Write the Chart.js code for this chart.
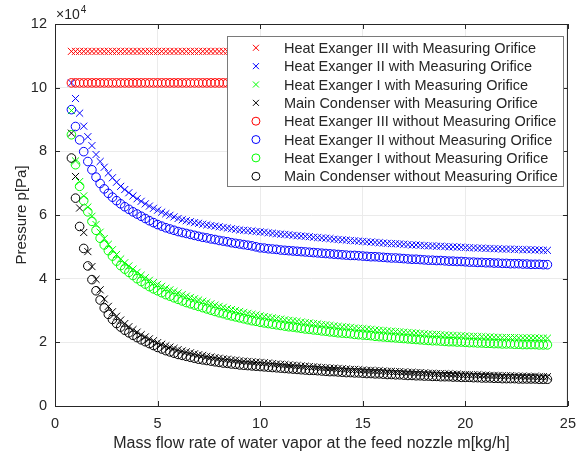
<!DOCTYPE html>
<html>
<head>
    <title>Pressure vs Mass Flow</title>
    <script src="https://cdn.jsdelivr.net/npm/chart.js"></script>
    <style>
        body { margin: 0; background: #fff; }
        #wrap { width: 585px; height: 457px; }
    </style>
</head>
<body>
<div id="wrap"><canvas id="pressureChart" width="585" height="457"></canvas></div>
<script>
// mass flow rate m [kg/h]
const massFlow = [0.8, 1.0,
    1.2, 1.4, 1.6, 1.8, 2.0,
    2.2, 2.4, 2.6, 2.8, 3.0,
    3.2, 3.4, 3.6, 3.8, 4.0,
    4.2, 4.4, 4.6, 4.8, 5.0,
    5.2, 5.4, 5.6, 5.8, 6.0,
    6.2, 6.4, 6.6, 6.8, 7.0,
    7.2, 7.4, 7.6, 7.8, 8.0,
    8.2, 8.4, 8.6, 8.8, 9.0,
    9.2, 9.4, 9.6, 9.8, 10.0,
    10.2, 10.4, 10.6, 10.8, 11.0,
    11.2, 11.4, 11.6, 11.8, 12.0,
    12.2, 12.4, 12.6, 12.8, 13.0,
    13.2, 13.4, 13.6, 13.8, 14.0,
    14.2, 14.4, 14.6, 14.8, 15.0,
    15.2, 15.4, 15.6, 15.8, 16.0,
    16.2, 16.4, 16.6, 16.8, 17.0,
    17.2, 17.4, 17.6, 17.8, 18.0,
    18.2, 18.4, 18.6, 18.8, 19.0,
    19.2, 19.4, 19.6, 19.8, 20.0,
    20.2, 20.4, 20.6, 20.8, 21.0,
    21.2, 21.4, 21.6, 21.8, 22.0,
    22.2, 22.4, 22.6, 22.8, 23.0,
    23.2, 23.4, 23.6, 23.8, 24.0];

// pressures, in units of 1e4 Pa
const hx3With = [11.14, 11.14,
    11.14, 11.14, 11.14, 11.14, 11.14,
    11.14, 11.14, 11.14, 11.14, 11.14,
    11.14, 11.14, 11.14, 11.14, 11.14,
    11.14, 11.14, 11.14, 11.14, 11.14,
    11.14, 11.14, 11.14, 11.14, 11.14,
    11.14, 11.14, 11.14, 11.14, 11.14,
    11.14, 11.14, 11.14, 11.14, 11.14,
    11.14, 11.14, 11.14, 11.14, 11.14,
    11.14, 11.14, 11.14, 11.14, 11.14,
    11.14, 11.14, 11.14, 11.14, 11.14,
    11.14, 11.14, 11.14, 11.14, 11.14,
    11.14, 11.14, 11.14, 11.14, 11.14,
    11.14, 11.14, 11.14, 11.14, 11.14,
    11.14, 11.14, 11.14, 11.14, 11.14,
    11.14, 11.14, 11.14, 11.14, 11.14,
    11.14, 11.14, 11.14, 11.14, 11.14,
    11.14, 11.14, 11.14, 11.14, 11.14,
    11.14, 11.14, 11.14, 11.14, 11.14,
    11.14, 11.14, 11.14, 11.14, 11.14,
    11.14, 11.14, 11.14, 11.14, 11.14,
    11.14, 11.14, 11.14, 11.14, 11.14,
    11.14, 11.14, 11.14, 11.14, 11.14,
    11.14, 11.14, 11.14, 11.14, 11.14];

const hx2With = [10.15, 9.66,
    9.20, 8.79, 8.46, 8.18, 7.90,
    7.68, 7.50, 7.32, 7.17, 7.03,
    6.90, 6.80, 6.70, 6.60, 6.51,
    6.43, 6.35, 6.28, 6.21, 6.15,
    6.09, 6.04, 5.99, 5.94, 5.89,
    5.85, 5.82, 5.79, 5.76, 5.74,
    5.71, 5.69, 5.67, 5.65, 5.63,
    5.61, 5.59, 5.57, 5.55, 5.53,
    5.52, 5.51, 5.50, 5.48, 5.47,
    5.46, 5.44, 5.43, 5.41, 5.40,
    5.39, 5.38, 5.36, 5.35, 5.34,
    5.33, 5.32, 5.30, 5.29, 5.28,
    5.27, 5.26, 5.24, 5.23, 5.22,
    5.21, 5.20, 5.19, 5.18, 5.17,
    5.16, 5.15, 5.14, 5.13, 5.12,
    5.11, 5.10, 5.10, 5.09, 5.08,
    5.07, 5.06, 5.06, 5.05, 5.04,
    5.03, 5.03, 5.02, 5.02, 5.01,
    5.00, 5.00, 4.99, 4.99, 4.98,
    4.97, 4.97, 4.96, 4.96, 4.95,
    4.95, 4.94, 4.94, 4.93, 4.93,
    4.93, 4.92, 4.92, 4.91, 4.91,
    4.91, 4.90, 4.90, 4.89, 4.89];

const hx1With = [9.28, 7.70,
    7.05, 6.60, 6.25, 5.96, 5.70,
    5.46, 5.26, 5.08, 4.91, 4.76,
    4.62, 4.50, 4.40, 4.30, 4.20,
    4.11, 4.03, 3.95, 3.88, 3.82,
    3.76, 3.70, 3.65, 3.60, 3.55,
    3.50, 3.45, 3.41, 3.37, 3.33,
    3.29, 3.25, 3.21, 3.17, 3.13,
    3.10, 3.06, 3.03, 3.00, 2.97,
    2.94, 2.91, 2.88, 2.86, 2.83,
    2.81, 2.79, 2.77, 2.75, 2.73,
    2.71, 2.69, 2.68, 2.66, 2.64,
    2.62, 2.61, 2.59, 2.58, 2.56,
    2.55, 2.53, 2.52, 2.50, 2.49,
    2.48, 2.47, 2.45, 2.44, 2.43,
    2.42, 2.41, 2.39, 2.38, 2.37,
    2.36, 2.35, 2.34, 2.33, 2.32,
    2.31, 2.30, 2.29, 2.28, 2.27,
    2.26, 2.25, 2.25, 2.24, 2.23,
    2.22, 2.22, 2.21, 2.21, 2.20,
    2.19, 2.19, 2.18, 2.18, 2.17,
    2.17, 2.16, 2.16, 2.15, 2.15,
    2.15, 2.15, 2.14, 2.14, 2.14,
    2.14, 2.14, 2.13, 2.13, 2.13];

const condWith = [8.57, 7.21,
    6.22, 5.45, 4.85, 4.38, 3.98,
    3.65, 3.36, 3.13, 2.96, 2.82,
    2.70, 2.59, 2.49, 2.40, 2.32,
    2.24, 2.17, 2.11, 2.05, 1.99,
    1.94, 1.89, 1.85, 1.81, 1.77,
    1.73, 1.70, 1.67, 1.64, 1.61,
    1.59, 1.56, 1.54, 1.52, 1.50,
    1.48, 1.47, 1.45, 1.44, 1.42,
    1.41, 1.40, 1.39, 1.38, 1.37,
    1.36, 1.35, 1.33, 1.32, 1.31,
    1.30, 1.29, 1.28, 1.27, 1.26,
    1.25, 1.24, 1.23, 1.22, 1.21,
    1.20, 1.19, 1.19, 1.18, 1.17,
    1.16, 1.15, 1.15, 1.14, 1.13,
    1.12, 1.12, 1.11, 1.11, 1.10,
    1.09, 1.09, 1.08, 1.08, 1.07,
    1.06, 1.06, 1.05, 1.05, 1.04,
    1.03, 1.03, 1.02, 1.02, 1.01,
    1.01, 1.00, 1.00, 0.99, 0.99,
    0.98, 0.98, 0.98, 0.97, 0.97,
    0.96, 0.96, 0.96, 0.95, 0.95,
    0.95, 0.94, 0.94, 0.94, 0.93,
    0.93, 0.93, 0.92, 0.92, 0.92];

const hx3Without = [10.15, 10.15,
    10.15, 10.15, 10.15, 10.15, 10.15,
    10.15, 10.15, 10.15, 10.15, 10.15,
    10.15, 10.15, 10.15, 10.15, 10.15,
    10.15, 10.15, 10.15, 10.15, 10.15,
    10.15, 10.15, 10.15, 10.15, 10.15,
    10.15, 10.15, 10.15, 10.15, 10.15,
    10.15, 10.15, 10.15, 10.15, 10.15,
    10.15, 10.15, 10.15, 10.15, 10.15,
    10.15, 10.15, 10.15, 10.15, 10.15,
    10.15, 10.15, 10.15, 10.15, 10.15,
    10.15, 10.15, 10.15, 10.15, 10.15,
    10.15, 10.15, 10.15, 10.15, 10.15,
    10.15, 10.15, 10.15, 10.15, 10.15,
    10.15, 10.15, 10.15, 10.15, 10.15,
    10.15, 10.15, 10.15, 10.15, 10.15,
    10.15, 10.15, 10.15, 10.15, 10.15,
    10.15, 10.15, 10.15, 10.15, 10.15,
    10.15, 10.15, 10.15, 10.15, 10.15,
    10.15, 10.15, 10.15, 10.15, 10.15,
    10.15, 10.15, 10.15, 10.15, 10.15,
    10.15, 10.15, 10.15, 10.15, 10.15,
    10.15, 10.15, 10.15, 10.15, 10.15,
    10.15, 10.15, 10.15, 10.15, 10.15];

const hx2Without = [9.31, 8.78,
    8.36, 7.99, 7.68, 7.42, 7.19,
    6.99, 6.82, 6.68, 6.56, 6.45,
    6.35, 6.26, 6.18, 6.10, 6.03,
    5.96, 5.89, 5.82, 5.76, 5.70,
    5.65, 5.60, 5.56, 5.52, 5.48,
    5.45, 5.42, 5.39, 5.36, 5.33,
    5.30, 5.28, 5.25, 5.23, 5.20,
    5.18, 5.16, 5.13, 5.11, 5.09,
    5.07, 5.05, 5.03, 5.00, 4.97,
    4.96, 4.94, 4.93, 4.92, 4.90,
    4.89, 4.88, 4.87, 4.86, 4.85,
    4.84, 4.83, 4.82, 4.81, 4.80,
    4.79, 4.78, 4.77, 4.76, 4.75,
    4.74, 4.73, 4.73, 4.72, 4.71,
    4.70, 4.69, 4.69, 4.68, 4.67,
    4.66, 4.65, 4.65, 4.64, 4.63,
    4.62, 4.61, 4.61, 4.60, 4.59,
    4.58, 4.58, 4.57, 4.57, 4.56,
    4.55, 4.55, 4.54, 4.54, 4.53,
    4.52, 4.52, 4.51, 4.51, 4.50,
    4.50, 4.49, 4.49, 4.48, 4.48,
    4.47, 4.47, 4.47, 4.46, 4.46,
    4.45, 4.45, 4.45, 4.44, 4.44];

const hx1Without = [8.52, 7.58,
    6.90, 6.45, 6.10, 5.80, 5.52,
    5.27, 5.06, 4.88, 4.71, 4.55,
    4.41, 4.30, 4.20, 4.10, 4.00,
    3.91, 3.83, 3.75, 3.68, 3.62,
    3.56, 3.50, 3.45, 3.40, 3.35,
    3.30, 3.25, 3.21, 3.17, 3.13,
    3.09, 3.05, 3.01, 2.97, 2.93,
    2.90, 2.86, 2.83, 2.80, 2.77,
    2.74, 2.71, 2.68, 2.66, 2.63,
    2.61, 2.59, 2.57, 2.55, 2.53,
    2.51, 2.49, 2.48, 2.46, 2.44,
    2.42, 2.41, 2.39, 2.38, 2.36,
    2.35, 2.33, 2.32, 2.30, 2.29,
    2.28, 2.27, 2.25, 2.24, 2.23,
    2.22, 2.21, 2.19, 2.18, 2.17,
    2.16, 2.15, 2.14, 2.13, 2.12,
    2.11, 2.10, 2.09, 2.08, 2.07,
    2.06, 2.05, 2.05, 2.04, 2.03,
    2.02, 2.02, 2.01, 2.01, 2.00,
    1.99, 1.99, 1.98, 1.98, 1.97,
    1.97, 1.96, 1.96, 1.95, 1.95,
    1.95, 1.94, 1.94, 1.93, 1.93,
    1.93, 1.93, 1.92, 1.92, 1.92];

const condWithout = [7.79, 6.53,
    5.64, 4.95, 4.40, 3.97, 3.62,
    3.33, 3.08, 2.88, 2.72, 2.59,
    2.48, 2.38, 2.30, 2.22, 2.15,
    2.08, 2.02, 1.96, 1.90, 1.84,
    1.79, 1.74, 1.70, 1.66, 1.62,
    1.59, 1.56, 1.53, 1.50, 1.47,
    1.45, 1.43, 1.41, 1.39, 1.37,
    1.35, 1.34, 1.32, 1.31, 1.29,
    1.28, 1.27, 1.26, 1.25, 1.24,
    1.23, 1.22, 1.21, 1.20, 1.19,
    1.18, 1.17, 1.16, 1.15, 1.14,
    1.13, 1.12, 1.12, 1.11, 1.10,
    1.09, 1.08, 1.08, 1.07, 1.06,
    1.05, 1.05, 1.04, 1.04, 1.03,
    1.02, 1.02, 1.01, 1.01, 1.00,
    0.99, 0.99, 0.98, 0.98, 0.97,
    0.96, 0.96, 0.95, 0.95, 0.94,
    0.94, 0.93, 0.93, 0.92, 0.92,
    0.92, 0.91, 0.91, 0.90, 0.90,
    0.90, 0.89, 0.89, 0.88, 0.88,
    0.88, 0.87, 0.87, 0.86, 0.86,
    0.86, 0.86, 0.85, 0.85, 0.85,
    0.85, 0.85, 0.84, 0.84, 0.84];

const seriesLabels = [
    'Heat Exanger III with Measuring Orifice',
    'Heat Exanger II with Measuring Orifice',
    'Heat Exanger I with Measuring Orifice',
    'Main Condenser with Measuring Orifice',
    'Heat Exanger III without Measuring Orifice',
    'Heat Exanger II without Measuring Orifice',
    'Heat Exanger I without Measuring Orifice',
    'Main Condenser without Measuring Orifice'
];
const seriesValues = [hx3With, hx2With, hx1With, condWith, hx3Without, hx2Without, hx1Without, condWithout];
const seriesColors = ['#ff0000', '#0000ff', '#00ff00', '#000000', '#ff0000', '#0000ff', '#00ff00', '#000000'];

const axisColor = '#262626';
const fontFamily = '"Liberation Sans", Arial, Helvetica, sans-serif';

function toPoints(values) {
    return values.map((v, i) => ({ x: massFlow[i], y: v }));
}

function isCross(i) { return i < 4; }

const datasets = seriesValues.map((vals, i) => ({
    label: seriesLabels[i],
    data: toPoints(vals),
    showLine: false,
    pointStyle: isCross(i) ? 'crossRot' : 'circle',
    pointRadius: isCross(i) ? 5 : 4.3,
    pointBorderWidth: 1,
    borderColor: seriesColors[i],
    backgroundColor: 'rgba(0,0,0,0)',
    order: -i   // later series drawn on top, like MATLAB
}));

// box, inward ticks, legend and exponent label
const matlabFrame = {
    id: 'matlabFrame',
    afterDraw(chart) {
        const { ctx, chartArea: a, scales } = chart;
        ctx.save();
        ctx.strokeStyle = axisColor;
        ctx.lineWidth = 1;
        ctx.strokeRect(a.left + 0.5, a.top + 0.5, a.right - a.left - 1, a.bottom - a.top);

        const tl = 5;
        ctx.beginPath();
        scales.x.ticks.forEach(t => {
            const px = Math.round(scales.x.getPixelForValue(t.value)) + 0.5;
            ctx.moveTo(px, a.bottom); ctx.lineTo(px, a.bottom - tl);
            ctx.moveTo(px, a.top); ctx.lineTo(px, a.top + tl);
        });
        scales.y.ticks.forEach(t => {
            const py = Math.round(scales.y.getPixelForValue(t.value)) + 0.5;
            ctx.moveTo(a.left, py); ctx.lineTo(a.left + tl, py);
            ctx.moveTo(a.right, py); ctx.lineTo(a.right - tl, py);
        });
        ctx.stroke();

        // exponent
        ctx.fillStyle = axisColor;
        ctx.textBaseline = 'alphabetic';
        ctx.textAlign = 'left';
        ctx.font = '14px ' + fontFamily;
        ctx.fillText('\u00d710', a.left + 1, a.top - 5);
        const w = ctx.measureText('\u00d710').width;
        ctx.font = '10px ' + fontFamily;
        ctx.fillText('4', a.left + 1 + w + 1, a.top - 11);

        // legend
        ctx.font = '14.5px ' + fontFamily;
        let maxW = 0;
        seriesLabels.forEach(s => { maxW = Math.max(maxW, ctx.measureText(s).width); });
        const rowH = 18.35;
        const boxW = 57 + maxW + 5;
        const boxH = rowH * seriesLabels.length + 3;
        const bx = a.right - 5 - boxW;
        const by = a.top + 12;
        ctx.fillStyle = '#ffffff';
        ctx.fillRect(bx, by, boxW, boxH);
        ctx.strokeStyle = '#7a7a7a';
        ctx.strokeRect(Math.round(bx) + 0.5, Math.round(by) + 0.5, Math.round(boxW), Math.round(boxH));
        ctx.textBaseline = 'middle';
        seriesLabels.forEach((s, i) => {
            const cy = by + 11.8 + rowH * i;
            const mx = bx + 29;
            ctx.strokeStyle = seriesColors[i];
            ctx.lineWidth = 1;
            ctx.beginPath();
            if (isCross(i)) {
                const r = 3;
                ctx.moveTo(mx - r, cy - r); ctx.lineTo(mx + r, cy + r);
                ctx.moveTo(mx - r, cy + r); ctx.lineTo(mx + r, cy - r);
            } else {
                ctx.arc(mx, cy, 4, 0, Math.PI * 2);
            }
            ctx.stroke();
            ctx.fillStyle = axisColor;
            ctx.fillText(s, bx + 57, cy + 1);
        });
        ctx.restore();
    }
};

new Chart(document.getElementById('pressureChart'), {
    type: 'scatter',
    data: { datasets: datasets },
    options: {
        responsive: false,
        animation: false,
        devicePixelRatio: 1,
        layout: { padding: { top: 24, right: 17, left: 0, bottom: 0 } },
        plugins: {
            legend: { display: false },
            tooltip: { enabled: false }
        },
        scales: {
            x: {
                type: 'linear',
                min: 0,
                max: 25,
                ticks: { stepSize: 5, color: axisColor, font: { family: fontFamily, size: 14.5 }, padding: 9, maxRotation: 0 },
                grid: { color: '#ebebeb', drawTicks: false },
                border: { display: false },
                title: {
                    display: true,
                    text: 'Mass flow rate of water vapor at the feed nozzle m[kg/h]',
                    color: axisColor,
                    font: { family: fontFamily, size: 16 },
                    padding: { top: 0, bottom: 4 }
                },
                afterFit(scale) { scale.height = 51; }
            },
            y: {
                type: 'linear',
                min: 0,
                max: 12,
                ticks: { stepSize: 2, color: axisColor, font: { family: fontFamily, size: 14.5 }, padding: 8 },
                grid: { color: '#ebebeb', drawTicks: false },
                border: { display: false },
                title: {
                    display: true,
                    text: 'Pressure p[Pa]',
                    color: axisColor,
                    font: { family: fontFamily, size: 15 },
                    padding: { top: 13, bottom: 0 }
                },
                afterFit(scale) { scale.width = 55; }
            }
        }
    },
    plugins: [matlabFrame]
});
</script>
</body>
</html>
